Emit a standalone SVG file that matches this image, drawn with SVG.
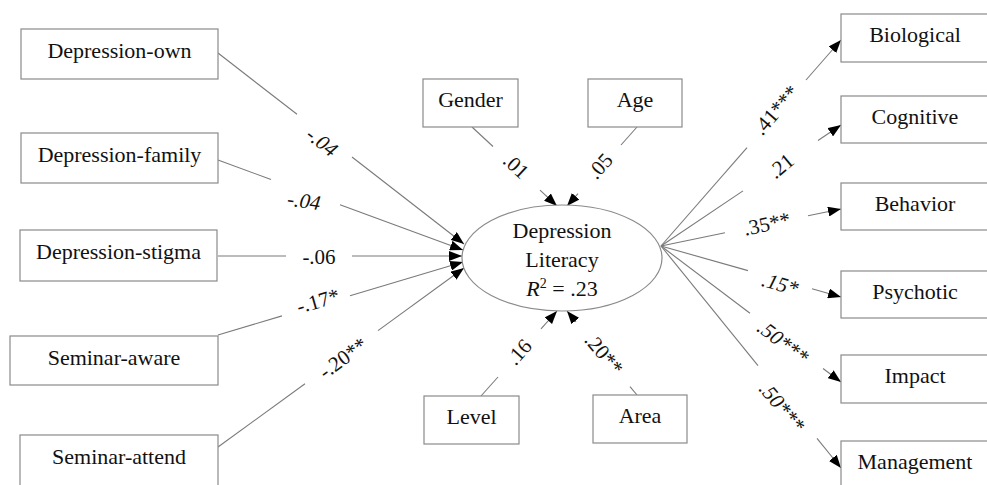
<svg xmlns="http://www.w3.org/2000/svg" width="987" height="485" viewBox="0 0 987 485" font-family="Liberation Serif, Times New Roman, DejaVu Serif, serif">
<style>
.box{fill:#fff;stroke:#8a8a8a;stroke-width:1.2}
text{fill:#111}
.t{font-size:22px;text-anchor:middle}
.l{font-size:21px;text-anchor:middle;dominant-baseline:central}
.i{font-style:italic}
.c line{stroke:#7a7a7a;stroke-width:1.1}
</style>
<defs>
<marker id="ah" markerUnits="userSpaceOnUse" markerWidth="14" markerHeight="10" refX="13" refY="5" orient="auto">
<path d="M0,0 L13,5 L0,10 z" fill="#000"/>
</marker>
</defs>
<rect width="987" height="485" fill="#fff"/>
<g class="c" id="connectors">
<line x1="218" y1="53" x2="297" y2="114.3"/><line x1="352" y1="157" x2="464" y2="244" marker-end="url(#ah)"/>
<line x1="218" y1="160" x2="271" y2="179.5"/><line x1="340" y1="204.8" x2="463" y2="250" marker-end="url(#ah)"/>
<line x1="218" y1="256" x2="286" y2="256"/><line x1="352" y1="256" x2="462" y2="256" marker-end="url(#ah)"/>
<line x1="218" y1="335" x2="282" y2="315.9"/><line x1="350" y1="295.7" x2="463" y2="262" marker-end="url(#ah)"/>
<line x1="218" y1="447" x2="305" y2="383.7"/><line x1="378" y1="330.6" x2="464" y2="268" marker-end="url(#ah)"/>
<line x1="472" y1="127" x2="493" y2="146.5"/><line x1="540" y1="190.2" x2="557" y2="206" marker-end="url(#ah)"/>
<line x1="637" y1="127" x2="621" y2="145"/><line x1="578" y1="193.6" x2="567" y2="206" marker-end="url(#ah)"/>
<line x1="481" y1="396" x2="498" y2="377"/><line x1="541" y1="328.9" x2="557" y2="311" marker-end="url(#ah)"/>
<line x1="637" y1="395" x2="630" y2="386.6"/><line x1="576" y1="321.8" x2="567" y2="311" marker-end="url(#ah)"/>
<line x1="661" y1="246" x2="747" y2="147.6"/><line x1="806" y1="80" x2="841" y2="40" marker-end="url(#ah)"/>
<line x1="661" y1="246" x2="743" y2="190.9"/><line x1="818" y1="140.5" x2="841" y2="125" marker-end="url(#ah)"/>
<line x1="661" y1="246" x2="725" y2="232.8"/><line x1="808" y1="215.8" x2="841" y2="209" marker-end="url(#ah)"/>
<line x1="661" y1="246" x2="748" y2="270.6"/><line x1="812" y1="288.7" x2="841" y2="297" marker-end="url(#ah)"/>
<line x1="661" y1="246" x2="750" y2="313.3"/><line x1="823" y1="368.5" x2="841" y2="382" marker-end="url(#ah)"/>
<line x1="661" y1="246" x2="758" y2="365.6"/><line x1="817" y1="438.4" x2="841" y2="468" marker-end="url(#ah)"/>
</g>
<g id="labels">
<text class="l i" transform="translate(322,142) rotate(38)">-.04</text>
<text class="l i" transform="translate(304,201) rotate(8)">-.04</text>
<text class="l" transform="translate(319,257)">-.06</text>
<text class="l" transform="translate(318,301) rotate(-16)">-.17*</text>
<text class="l" transform="translate(343,358) rotate(-36)">-.20**</text>
<text class="l" transform="translate(516,166) rotate(43)">.01</text>
<text class="l" transform="translate(600,166) rotate(-48)">.05</text>
<text class="l" transform="translate(519,352) rotate(-48)">.16</text>
<text class="l" transform="translate(604,354) rotate(50)">.20**</text>
<text class="l" transform="translate(776,110) rotate(-49)">.41***</text>
<text class="l" transform="translate(781,166) rotate(-40)">.21</text>
<text class="l" transform="translate(767,224) rotate(-12)">.35**</text>
<text class="l i" transform="translate(780,284) rotate(16)">.15*</text>
<text class="l i" transform="translate(783,342) rotate(37)">.50***</text>
<text class="l i" transform="translate(782,407) rotate(50)">.50***</text>
</g>
<g id="n-own"><rect class="box" x="21" y="29" width="197" height="50"/><text class="t" x="119.5" y="58">Depression-own</text></g>
<g id="n-family"><rect class="box" x="21" y="133" width="197" height="50"/><text class="t" x="119.5" y="162">Depression-family</text></g>
<g id="n-stigma"><rect class="box" x="20" y="230" width="197" height="51"/><text class="t" x="118.5" y="259">Depression-stigma</text></g>
<g id="n-aware"><rect class="box" x="10" y="336" width="208" height="49"/><text class="t" x="114" y="365">Seminar-aware</text></g>
<g id="n-attend"><rect class="box" x="20" y="435" width="198" height="52"/><text class="t" x="119" y="464">Seminar-attend</text></g>
<g id="n-gender"><rect class="box" x="423" y="79" width="95" height="48"/><text class="t" x="470.5" y="107">Gender</text></g>
<g id="n-age"><rect class="box" x="588" y="79" width="94" height="48"/><text class="t" x="635" y="107">Age</text></g>
<g id="n-level"><rect class="box" x="424" y="396" width="95" height="48"/><text class="t" x="471.5" y="424">Level</text></g>
<g id="n-area"><rect class="box" x="593" y="395" width="94" height="48"/><text class="t" x="640" y="423">Area</text></g>
<g id="n-literacy"><ellipse cx="562" cy="258" rx="100" ry="53" fill="#fff" stroke="#8a8a8a" stroke-width="1.2"/>
<text class="t" x="562" y="238">Depression</text>
<text class="t" x="562" y="267">Literacy</text>
<text class="t" x="562" y="296"><tspan font-style="italic">R</tspan><tspan font-size="14" dy="-8">2</tspan><tspan dy="8"> = .23</tspan></text></g>
<g id="n-bio"><rect class="box" x="841" y="14" width="150" height="48"/><text class="t" x="915" y="42">Biological</text></g>
<g id="n-cog"><rect class="box" x="841" y="96" width="150" height="47"/><text class="t" x="915" y="124">Cognitive</text></g>
<g id="n-beh"><rect class="box" x="841" y="183" width="150" height="47"/><text class="t" x="915" y="211">Behavior</text></g>
<g id="n-psy"><rect class="box" x="841" y="271" width="150" height="47"/><text class="t" x="915" y="299">Psychotic</text></g>
<g id="n-imp"><rect class="box" x="841" y="355" width="150" height="48"/><text class="t" x="915" y="383">Impact</text></g>
<g id="n-man"><rect class="box" x="841" y="441" width="150" height="50"/><text class="t" x="915" y="469">Management</text></g>
</svg>
